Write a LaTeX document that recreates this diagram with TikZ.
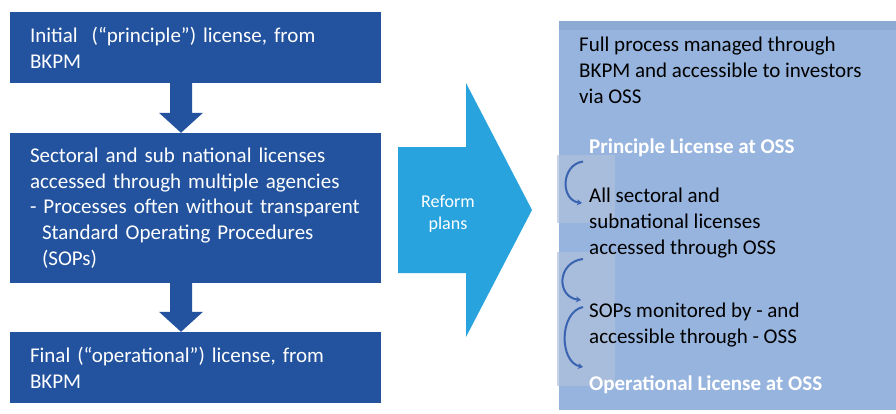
\documentclass[tikz,border=0pt]{standalone}
\usepackage{fontspec}
\setmainfont{Carlito}
\usetikzlibrary{shapes,arrows,positioning,calc,arrows.meta}
\definecolor{boxblue}{RGB}{35,83,158}
\definecolor{reformblue}{RGB}{41,163,221}
\definecolor{panelblue}{RGB}{150,180,222}
\definecolor{paneltop}{RGB}{140,170,212}
\definecolor{patchblue}{RGB}{176,192,218}
\definecolor{curlblue}{RGB}{58,100,178}

% block arrow from the bottom of one box to the top of the next
\newcommand{\flowarrow}[2]{%
  \fill[boxblue] ($(#1.south)+(-25.5,0)$) -- ($(#1.south)+(-3.5,0)$)
    -- ($(#2.north)+(-3.5,-20)$) -- ($(#2.north)+(7.5,-20)$)
    -- ($(#2.north)+(-14.5,0)$) -- ($(#2.north)+(-36.5,-20)$)
    -- ($(#2.north)+(-25.5,-20)$) -- cycle;}

\begin{document}
\begin{tikzpicture}[x=1pt,y=-1pt,
    stagebox/.style={fill=boxblue, text=white, minimum width=371pt, text width=331pt,
      inner xsep=20pt, align=left, font=\fontsize{21}{25.7}\selectfont},
    ossline/.style={anchor=north west, inner sep=0pt, align=left,
      font=\fontsize{21}{25.7}\selectfont},
    osshead/.style={anchor=base west, inner sep=0pt, text=white,
      font=\fontsize{21}{25.7}\selectfont\bfseries},
    curl/.style={curlblue, line width=2pt, -{Stealth[length=5pt,width=6pt]}}]
    \useasboundingbox (0,0) rectangle (896,413);

    % left: current process
    \node[stagebox, minimum height=71pt] (initial) at (195.5,47.5)
      {Initial~ (``principle'') license, from\\ BKPM};
    \node[stagebox, minimum height=150pt] (sectoral) at (195.5,208)
      {Sectoral and sub national licenses\\ accessed through multiple agencies\\
       - Processes often without transparent\\ \hspace*{12pt}Standard Operating Procedures\\
       \hspace*{12pt}(SOPs)};
    \node[stagebox, minimum height=71pt] (final) at (195.5,367.5)
      {Final (``operational'') license, from\\ BKPM};
    \flowarrow{initial}{sectoral}
    \flowarrow{sectoral}{final}

    % middle: reform arrow
    \fill[reformblue] (398,147) -- (466,147) -- (466,83) -- (532,210)
      -- (466,337) -- (466,273) -- (398,273) -- cycle;
    \node[text=white, align=center, font=\fontsize{18}{21.5}\selectfont] (reform) at (448,214)
      {Reform\\ plans};

    % right: reformed process
    \fill[panelblue] (559,21) rectangle (896,410);
    \fill[paneltop] (559,21) rectangle (896,30);
    \fill[patchblue, opacity=0.7] (557,155) rectangle (615,223);
    \fill[patchblue, opacity=0.7] (557,252) rectangle (615,386);
    \node[ossline] (full) at (579,37)
      {Full process managed through\\ BKPM and accessible to investors\\ via OSS};
    \node[osshead] (principle) at (589,153) {Principle License at OSS};
    \node[ossline] (access) at (589,188)
      {All sectoral and\\ subnational licenses\\ accessed through OSS};
    \node[ossline] (sops) at (589,303)
      {SOPs monitored by - and\\ accessible through - OSS};
    \node[osshead] (operational) at (589,390) {Operational License at OSS};

    \draw[curl] ([xshift=-6pt,yshift=-5pt]principle.south west)
      .. controls +(-22,3) and +(-22,-3) .. ([xshift=-7pt,yshift=-15pt]access.north west);
    \draw[curl] ([xshift=-6pt,yshift=-1pt]access.south west)
      .. controls +(-26,3) and +(-25,-3) .. ([xshift=-8pt,yshift=3pt]sops.north west);
    \draw[curl] ([xshift=-6pt,yshift=-4pt]sops.north west)
      .. controls +(-24,5) and +(-24,-5) .. ([xshift=-6pt,yshift=8pt]operational.north west);
\end{tikzpicture}
\end{document}
